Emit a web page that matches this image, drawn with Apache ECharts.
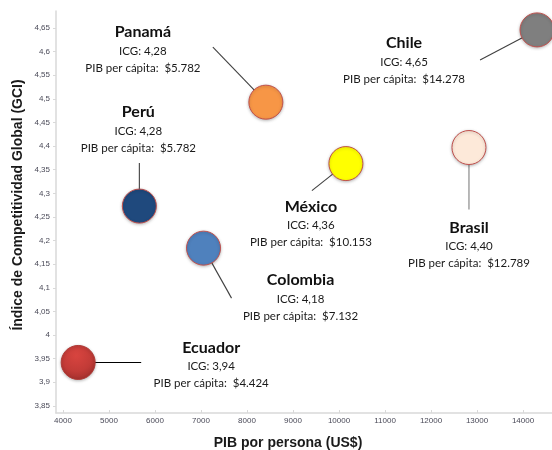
<!DOCTYPE html>
<html>
<head>
<meta charset="utf-8">
<script src="https://cdn.jsdelivr.net/npm/echarts@6/dist/echarts.min.js"></script>
<style>html,body{margin:0;padding:0;background:#fff;}#c{width:552px;height:450px;}</style>
</head>
<body>
<div id="c"></div>
<script>
// ---- Data ----
var countries = ['Ecuador', 'Perú', 'Colombia', 'Panamá', 'México', 'Brasil', 'Chile'];
var gdp = [4330, 5660, 7055, 8410, 10150, 12825, 14305];        // bubble x positions
var gci = [3.942, 4.273, 4.184, 4.493, 4.363, 4.397, 4.646];     // bubble y positions
var icgText = ['3,94', '4,28', '4,18', '4,28', '4,36', '4,40', '4,65'];
var pibText = ['$4.424', '$5.782', '$7.132', '$5.782', '$10.153', '$12.789', '$14.278'];
var xTicks = [4000, 5000, 6000, 7000, 8000, 9000, 10000, 11000, 12000, 13000, 14000];
var yTicks = [3.85, 3.9, 3.95, 4, 4.05, 4.1, 4.15, 4.2, 4.25, 4.3, 4.35, 4.4, 4.45, 4.5, 4.55, 4.6, 4.65];

// ---- Styling (colours, annotation placement in pixels relative to bubble) ----
var ecuadorFill = new echarts.graphic.RadialGradient(0.45, 0.3, 0.75, [
  {offset: 0, color: '#D8443F'}, {offset: 0.6, color: '#C23B37'}, {offset: 1, color: '#9E2E2B'}
]);
var colors = [ecuadorFill, '#1F497D', '#4F81BD', '#F79646', '#FFFF00', '#FDE9D9', '#7F7F7F'];
var labelOffset = [[133, -15], [-1, -94], [97, 32], [-123, -70], [-35, 43], [0, 80], [-133, 13]];
var leaderStart = [[63, 0], [0, -43], [28, 50], [-53, -55], [-34, 27], [0, 62], [-57, 30]];
var leaderColor = ['#000', '#404040', '#404040', '#404040', '#404040', '#7f7f7f', '#404040'];
var borderColors = ['#B03A36', '#C0504D', '#C0504D', '#C0504D', '#C0504D', '#C0504D', '#C0504D'];

var chart = echarts.init(document.getElementById('c'), null, {renderer: 'canvas'});

var points = gdp.map(function (x, i) {
  return {
    value: [x, gci[i], i],
    itemStyle: {color: colors[i], borderColor: borderColors[i]}
  };
});

var tickFont = {fontFamily: 'Liberation Sans, Arial, sans-serif', fontSize: 8, color: '#4a4a58'};

var option = {
  animation: false,
  backgroundColor: '#fff',
  grid: {left: 56, right: 0, top: 11, bottom: 37, containLabel: false},
  xAxis: {
    type: 'value',
    min: 3848, max: 14630,
    axisLine: {show: true, lineStyle: {color: '#D9D9D9', width: 1.5}},
    axisTick: {show: true, inside: true, length: 3, customValues: xTicks, lineStyle: {color: '#D9D9D9'}},
    axisLabel: Object.assign({customValues: xTicks, margin: 4, formatter: function (v) { return String(v); }}, tickFont),
    splitLine: {show: false}
  },
  yAxis: {
    type: 'value',
    min: 3.835, max: 4.686,
    axisLine: {show: true, lineStyle: {color: '#D9D9D9', width: 1.5}},
    axisTick: {show: true, length: 3, customValues: yTicks, lineStyle: {color: '#D9D9D9'}},
    axisLabel: Object.assign({customValues: yTicks, margin: 6, formatter: function (v) {
      return String(+(+v).toFixed(2)).replace('.', ',');
    }}, tickFont),
    splitLine: {show: false}
  },
  graphic: [
    {
      type: 'text', x: 18, y: 205, rotation: Math.PI / 2,
      style: {text: 'Índice de Competitividad Global (GCI)', font: 'bold 14px Liberation Sans, Arial, sans-serif',
        fill: '#1a1a1a', align: 'center', verticalAlign: 'middle'}
    },
    {
      type: 'text', x: 288, y: 443,
      style: {text: 'PIB por persona (US$)', font: 'bold 14px Liberation Sans, Arial, sans-serif',
        fill: '#1a1a1a', align: 'center', verticalAlign: 'middle'}
    }
  ],
  series: [
    {
      type: 'custom',
      z: 1,
      silent: true,
      data: points.map(function (p) { return p.value; }),
      renderItem: function (params, api) {
        var i = api.value(2);
        var c = api.coord([api.value(0), api.value(1)]);
        var ls = leaderStart[i], lo = labelOffset[i];
        var lx = c[0] + lo[0], ly = c[1] + lo[1];
        return {
          type: 'group',
          children: [
            {type: 'line', shape: {x1: c[0] + ls[0], y1: c[1] + ls[1], x2: c[0], y2: c[1]},
              style: {stroke: leaderColor[i], lineWidth: 1.1}},
            {type: 'text', x: lx, y: ly,
              style: {text: countries[i], font: 'bold 16px Lato, sans-serif', fill: '#111',
                align: 'center', verticalAlign: 'middle'}},
            {type: 'text', x: lx, y: ly + 19,
              style: {text: 'ICG: ' + icgText[i], font: '11.5px Lato, sans-serif', fill: '#1a1a1a',
                align: 'center', verticalAlign: 'middle'}},
            {type: 'text', x: lx, y: ly + 36,
              style: {text: 'PIB per cápita:  ' + pibText[i], font: '11.5px Lato, sans-serif', fill: '#1a1a1a',
                align: 'center', verticalAlign: 'middle'}}
          ]
        };
      }
    },
    {
      type: 'scatter',
      z: 3,
      symbol: 'circle',
      symbolSize: 34,
      data: points,
      itemStyle: {
        borderWidth: 1,
        opacity: 1,
        shadowBlur: 3,
        shadowColor: 'rgba(0,0,0,0.25)',
        shadowOffsetY: 1
      }
    }
  ]
};
chart.setOption(option);
</script>
</body>
</html>
